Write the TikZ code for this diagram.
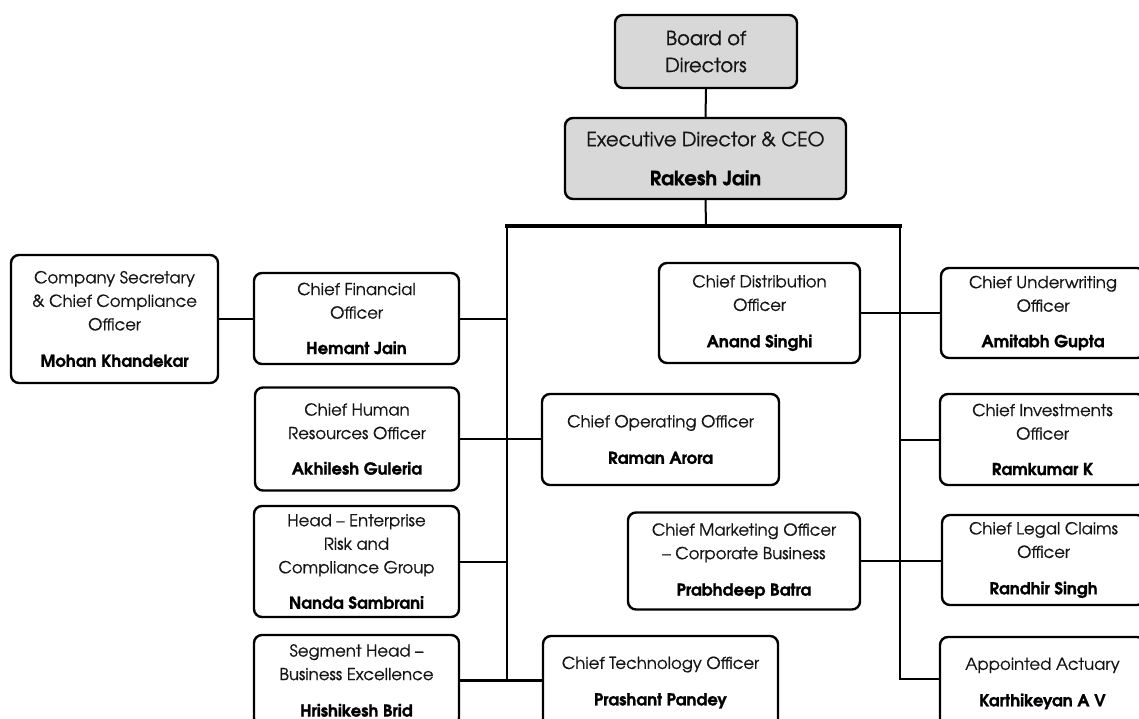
\documentclass[tikz,border=0pt]{standalone}
\usepackage{fontspec}
\setmainfont{TeX Gyre Adventor}[UprightFeatures={FakeBold=0.7}, BoldFeatures={FakeBold=1.2}]
\definecolor{boxgray}{RGB}{216,216,216}
\definecolor{inkgray}{RGB}{20,20,20}
\begin{document}
\begin{tikzpicture}[x=1pt,y=-1pt,
  box/.style={draw=black, line width=2.4pt, rounded corners=8pt, align=center,
    inner sep=0pt, text=inkgray, font=\fontsize{16.5}{23.5}\selectfont},
  headbox/.style={box, fill=boxgray, font=\fontsize{19.5}{27}\selectfont},
  link/.style={line width=2pt},
  trunk/.style={line width=3.8pt}]
\useasboundingbox (0,0) rectangle (1139,718);
\clip (0,0) rectangle (1139,718);

% top of the tree
\node[headbox, minimum width=182pt, minimum height=73pt] (board) at (706,51.5)
  {Board of\\Directors};
\node[headbox, minimum width=281pt, minimum height=81pt] (ceo) at (705.5,158.5)
  {Executive Director \& CEO\\[12pt]\textcolor{black}{\textbf{Rakesh Jain}}};

% left branch
\node[box, minimum width=207pt, minimum height=128pt] (cs) at (114.5,319)
  {Company Secretary\\\& Chief Compliance\\Officer\\[13pt]\textcolor{black}{\textbf{Mohan Khandekar}}};
\node[box, minimum width=205pt, minimum height=91pt] (cfo) at (356.5,318.5)
  {Chief Financial\\Officer\\[12pt]\textcolor{black}{\textbf{Hemant Jain}}};
\node[box, minimum width=204pt, minimum height=103pt] (chro) at (357,439)
  {Chief Human\\Resources Officer\\[12pt]\textcolor{black}{\textbf{Akhilesh Guleria}}};
\node[box, minimum width=205pt, minimum height=111pt] (erc) at (356.5,561.5)
  {Head – Enterprise\\Risk and\\Compliance Group\\[12pt]\textcolor{black}{\textbf{Nanda Sambrani}}};
\node[box, minimum width=205pt, minimum height=91pt] (seg) at (356.5,680.5)
  {Segment Head –\\Business Excellence\\[13pt]\textcolor{black}{\textbf{Hrishikesh Brid}}};

% middle column
\node[box, minimum width=237pt, minimum height=91pt] (coo) at (660.5,439.5)
  {Chief Operating Officer\\[13pt]\textcolor{black}{\textbf{Raman Arora}}};
\node[box, minimum width=235pt, minimum height=93pt] (cto) at (660.5,682.5)
  {Chief Technology Officer\\[13pt]\textcolor{black}{\textbf{Prashant Pandey}}};
\node[box, minimum width=201pt, minimum height=100pt] (cdo) at (759.5,313)
  {Chief Distribution\\Officer\\[13pt]\textcolor{black}{\textbf{Anand Singhi}}};
\node[box, minimum width=232pt, minimum height=97pt] (cmo) at (744,561)
  {Chief Marketing Officer\\– Corporate Business\\[13pt]\textcolor{black}{\textbf{Prabhdeep Batra}}};

% right column
\node[box, minimum width=204pt, minimum height=90pt] (cuo) at (1043,313)
  {Chief Underwriting\\Officer\\[12pt]\textcolor{black}{\textbf{Amitabh Gupta}}};
\node[box, minimum width=205pt, minimum height=91pt] (cio) at (1042.5,439.5)
  {Chief Investments\\Officer\\[12pt]\textcolor{black}{\textbf{Ramkumar K}}};
\node[box, minimum width=203pt, minimum height=90pt] (clco) at (1043.5,560)
  {Chief Legal Claims\\Officer\\[13pt]\textcolor{black}{\textbf{Randhir Singh}}};
\node[box, minimum width=205pt, minimum height=93pt] (aa) at (1042.5,683.5)
  {Appointed Actuary\\[13pt]\textcolor{black}{\textbf{Karthikeyan A V}}};

% trunk and spines
\coordinate (tc) at (706,226);
\coordinate (tl) at (507,226);
\coordinate (tr) at (900,226);
\coordinate (lb) at (507,681);
\coordinate (rb) at (900,679);

\draw[link] (board.south) -- (ceo.north);
\draw[link] (ceo.south) -- (tc);
\draw[link] (tl) -- (lb);
\draw[link] (tr) -- (rb) -- (rb -| aa.west);
\draw[trunk, line cap=rect] (tl) -- (tr);

% branches off the left spine
\draw[link] (cs.east) -- (cs.east -| cfo.west);
\draw[link] (cfo.east) -- (cfo.east -| tl);
\draw[link] (chro.east) -- (chro.east -| coo.west);
\draw[link] (erc.east) -- (erc.east -| tl);
\draw[trunk] (seg.east) -- (seg.east -| cto.west);

% branches off the right spine
\draw[link] (cdo.east) -- (cdo.east -| cuo.west);
\draw[link] (cio.west) -- (cio.west -| tr);
\draw[link] (cmo.east) -- (cmo.east -| clco.west);
\end{tikzpicture}
\end{document}
